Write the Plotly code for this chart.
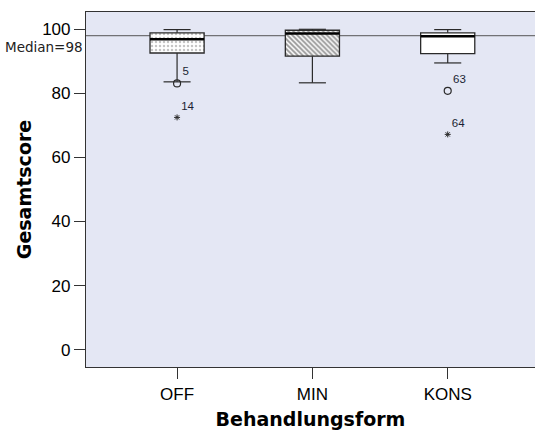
import plotly.graph_objects as go

categories = ["OFF", "MIN", "KONS"]
q1 = [92.6, 91.6, 92.4]
medians = [96.9, 98.7, 97.8]
q3 = [98.9, 99.7, 98.9]
whisker_low = [83.6, 83.3, 89.5]
whisker_high = [99.9, 100.0, 99.9]

circle_cat = ["OFF", "KONS"]
circle_val = [83.1, 80.8]
circle_id = ["5", "63"]
star_cat = ["OFF", "KONS"]
star_val = [72.5, 67.2]
star_id = ["14", "64"]

overall_median = 98
patterns = [".", "\\", ""]
y_ticks = [0, 20, 40, 60, 80, 100]

pos = {c: i for i, c in enumerate(categories)}
BOX_W = 0.4
CAP_W = 0.2
dark = "#2a2a2a"

fig = go.Figure()

# whiskers and caps
wx, wy = [], []
for i in range(len(categories)):
    wx += [i, i, None, i, i, None]
    wy += [q3[i], whisker_high[i], None, q1[i], whisker_low[i], None]
    wx += [i - CAP_W / 2, i + CAP_W / 2, None, i - CAP_W / 2, i + CAP_W / 2, None]
    wy += [whisker_high[i], whisker_high[i], None, whisker_low[i], whisker_low[i], None]
fig.add_trace(go.Scatter(x=wx, y=wy, mode="lines", line=dict(color=dark, width=1.2),
                         hoverinfo="skip", showlegend=False))

# boxes
for i, c in enumerate(categories):
    if patterns[i] == "\\":
        pat = dict(shape="\\", fgcolor="#2a2a2a", bgcolor="white", size=3.5, solidity=0.55)
    else:
        pat = dict(shape=patterns[i], fgcolor="#8a8a8a", bgcolor="white", size=4, solidity=0.3)
    fig.add_trace(go.Bar(x=[i], base=[q1[i]], y=[q3[i] - q1[i]], width=BOX_W,
                         marker=dict(color="white", line=dict(color=dark, width=1.3),
                                     pattern=pat),
                         showlegend=False, hoverinfo="skip"))

# medians
mx, my = [], []
for i in range(len(categories)):
    mx += [i - BOX_W / 2, i + BOX_W / 2, None]
    my += [medians[i], medians[i], None]
fig.add_trace(go.Scatter(x=mx, y=my, mode="lines", line=dict(color="black", width=2.5),
                         hoverinfo="skip", showlegend=False))

# outliers
fig.add_trace(go.Scatter(x=[pos[c] for c in circle_cat], y=circle_val, mode="markers+text",
                         marker=dict(symbol="circle-open", size=7, color=dark, line=dict(width=1.2)),
                         text=circle_id, textposition="top right",
                         textfont=dict(family="Liberation Sans", size=11.5, color="#1a1f33"),
                         showlegend=False))
fig.add_trace(go.Scatter(x=[pos[c] for c in star_cat], y=star_val, mode="markers+text",
                         marker=dict(symbol="asterisk-open", size=5, color=dark, line=dict(width=1, color="#444")),
                         text=star_id, textposition="top right",
                         textfont=dict(family="Liberation Sans", size=11.5, color="#1a1f33"),
                         showlegend=False))

fig.add_shape(type="line", xref="paper", x0=0, x1=1, yref="y", y0=overall_median, y1=overall_median,
              line=dict(color="#555", width=1), layer="below")
fig.add_annotation(xref="paper", x=0, xanchor="right", xshift=-1, yref="y", y=overall_median,
                   yanchor="top", yshift=-1, text=f"Median={overall_median}", showarrow=False,
                   font=dict(family="DejaVu Sans", size=13.5, color="#222"))

fig.update_layout(
    width=535, height=430,
    margin=dict(l=86, r=0, t=12, b=63),
    paper_bgcolor="white", plot_bgcolor="#e4e7f4",
    barmode="overlay", showlegend=False,
    xaxis=dict(range=[-0.673, 2.645], tickvals=list(range(len(categories))), ticktext=categories,
               showgrid=False, zeroline=False, showline=True, linecolor="#333", linewidth=1.2,
               mirror=True, ticks="outside", ticklen=11, tickcolor="#333",
               tickfont=dict(family="Liberation Sans", size=17, color="black"),
               title=dict(text="<b>Behandlungsform</b>", standoff=12,
                          font=dict(family="DejaVu Sans", size=19, color="black"))),
    yaxis=dict(range=[-5.4, 105.4], tickvals=y_ticks, showgrid=False, zeroline=False,
               showline=True, linecolor="#333", linewidth=1.2, mirror=True,
               ticks="outside", ticklen=11, tickcolor="#333",
               tickfont=dict(family="Liberation Sans", size=17, color="black"),
               title=dict(text="<b>Gesamtscore</b>", standoff=5,
                          font=dict(family="DejaVu Sans", size=19, color="black"))),
)

fig.write_html("out.html")
